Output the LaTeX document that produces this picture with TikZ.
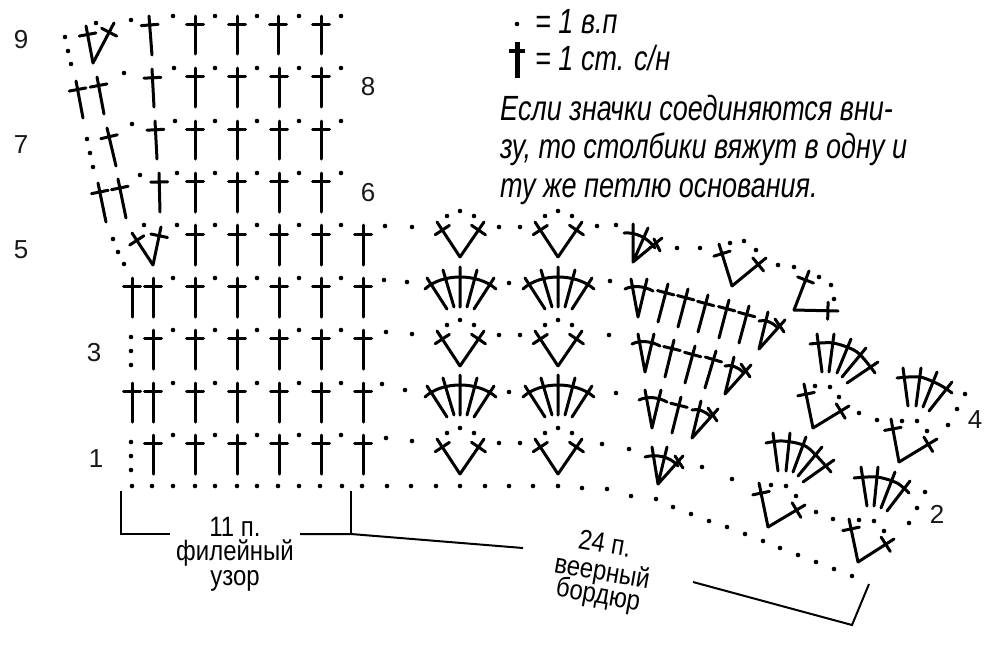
\documentclass[tikz,border=0pt]{standalone}
\usepackage{fontspec}
\usetikzlibrary{calc}
\setmainfont{Liberation Sans}
\newfontfamily\narrowf[FakeStretch=0.772]{Liberation Sans}
\newfontfamily\lblf[FakeStretch=0.855]{Liberation Sans}
\newfontfamily\numf{Liberation Sans}
\tikzset{
  ink/.style={line width=3pt,line cap=round,line join=round,black},
  thinline/.style={line width=2pt,black},
  lbl/.style={inner sep=0pt,font=\lblf\fontsize{28}{30}\selectfont},
  num/.style={inner sep=0pt,font=\numf\fontsize{26}{28}\selectfont,text=black!90},
  para/.style={inner sep=0pt,anchor=base west,font=\narrowf\itshape\fontsize{35}{38}\selectfont}
}
\newcommand{\stitch}[4]{%
  \coordinate (A) at (#1,#2); \coordinate (B) at (#3,#4);
  \coordinate (C) at ($(A)!.77!(B)$);
  \draw[ink] (A)--(B) ($(C)!8.5pt!90:(B)$)--($(C)!8.5pt!-90:(B)$);}
\newcommand{\dotat}[2]{\fill (#1,#2) circle (2.3pt);}
\newcommand{\stitchrow}[3]{\foreach \x in {#1} {\stitch{\x}{#3}{\x}{#2}}}
\newcommand{\veefan}[2]{%
  \pgfmathsetmacro{\xl}{#1-23}\pgfmathsetmacro{\xr}{#1+24}\pgfmathsetmacro{\yt}{#2-35}
  \stitch{#1}{#2}{\xl}{\yt}\stitch{#1}{#2}{\xr}{\yt}
  \begin{scope}[shift={(#1,#2)}]
  \fill (-13,-41) circle (2.3pt) (0,-46) circle (2.3pt) (14,-41) circle (2.3pt);
  \end{scope}}
\newcommand{\fanfive}[2]{%
  \begin{scope}[shift={(#1,#2)}]
  \draw[ink] (-13,42)--(-33,11) (-6,40)--(-17,3) (0,40)--(0,0) (7,40)--(17,3) (14,42)--(34,11);
  \draw[ink] (-35,22) .. controls (-18,6) and (18,6) .. (36,22);
  \end{scope}}
\newcommand{\vbar}[2]{%
  \begin{scope}[shift={(#1,#2)}]
  \draw[ink] (-7,-38)--(0,0)--(9,-38);
  \draw[ink] (-13,-28) .. controls (-5,-32) and (6,-31) .. (15,-26);
  \end{scope}}
\newcommand{\vtail}[2]{%
  \begin{scope}[shift={(#1,#2)}]
  \draw[ink] (9,-37)--(0,0)--(26,-29);
  \draw[ink] (0,-28) .. controls (6,-30) and (14,-26) .. (18,-22);
  \draw[ink] (16,-30)--(25,-17);
  \end{scope}}
\begin{document}
\begin{tikzpicture}[x=1pt,y=-1pt]
\useasboundingbox (0,0) rectangle (1000,646);
\fill[white] (0,0) rectangle (1000,646);

% --- filet columns
\stitchrow{195,237,278,321}{16}{54}
\stitch{152}{55}{149}{16}
\stitchrow{195,237,279,321}{68}{107}
\stitch{154}{107}{152}{69}
\stitch{83}{118}{76}{81}
\stitch{104}{114}{97}{77}
\stitchrow{195,237,279,321}{121}{159}
\stitch{157}{159}{155}{121}
\stitch{116}{166}{107}{128}
\stitchrow{195,237,279,321}{173}{212}
\stitch{160}{212}{159}{173}
\stitch{106}{222}{98}{183}
\stitch{126}{218}{118}{179}
\stitchrow{195,237,279,321,363}{225}{265}
\stitchrow{132,153,195,237,279,321,363}{278}{317}
\stitchrow{153,195,237,279,321,363}{330}{369}
\stitchrow{132,153,195,237,279,321,363}{383}{422}
\stitchrow{153,195,237,279,321,363}{435}{474}
% top-left clusters
\stitch{93}{63}{86}{26}
\stitch{93}{63}{114}{23}
\stitch{153}{265}{132}{233}
\stitch{153}{265}{161}{227}

% --- dots of the filet part
\foreach \p/\q in {
 131/20,173/16,215/16,257/16,299/16,341/16,96/23,65/37,68/51,71/64,
 124/73,174/68,215/68,257/68,299/68,341/68,
 132/124,175/121,215/121,257/121,299/121,341/121,87/139,90/153,93/167,
 140/175,177/173,215/173,257/173,299/173,341/173,
 144/225,177/225,215/225,257/225,299/225,341/225,385/226,113/239,118/252,124/264,
 173/278,215/278,257/278,299/278,341/278,384/280,
 173/330,215/330,257/330,299/330,341/330,386/332,131/337,131/351,131/365,
 173/383,215/383,257/383,299/383,341/383,382/384,
 173/435,215/435,257/435,299/435,341/435,386/438,131/442,131/456,131/470,
 132/486,152/486,173/486,195/486,215/486,237/486,257/486,278/486,299/486,320/486,342/486,362/486,
 387/486,411/486,436/486,460/486,485/486,509/486,533/486,558/486,582/488,607/489,631/496,656/499,
 673/507,691/514,709/521,727/527,745/534,763/541,780/548,798/555,816/562,834/569,852/576,
 412/227,499/227,520/227,597/226,616/225,
 407/282,509/283,610/281,
 412/334,499/335,520/335,609/335,
 405/390,509/392,616/393,
 412/441,499/443,520/443,602/444,629/449,
 677/248,700/248,730/243,744/241,756/250,778/265,794/267,819/277,831/285,834/299,
 815/386,830/387,839/397,859/413,877/420,
 902/421,917/421,927/431,948/425,957/409,965/394,
 771/485,786/486,796/496,816/512,833/519,
 859/520,874/521,884/531,909/523,917/508,925/492,
 702/467,732/479,
 517/24} {\dotat{\p}{\q}}

% --- fans
\veefan{460}{257}\veefan{558}{257}
\fanfive{460}{267}\fanfive{558}{267}
\veefan{460}{366}\veefan{558}{366}
\fanfive{460}{375}\fanfive{558}{375}
\veefan{460}{474}\veefan{558}{474}

% --- slanted part
\draw[ink] (662,238)--(633,262)--(633,224) (633,262)--(648,228);
\draw[ink] (624,233) .. controls (636,232) and (648,238) .. (655,248);
\draw[ink] (654,239)--(660,251);
\draw[ink] (683,456)--(658,484)--(652,447) (658,484)--(667,447);
\draw[ink] (645,457) .. controls (655,454) and (670,456) .. (678,466);
\draw[ink] (675,456)--(683,468);

\vbar{638}{317}\vbar{645}{372}\vbar{652}{428}
\stitch{658}{322}{668}{284}
\stitch{678}{327}{688}{289}
\stitch{698}{332}{708}{295}
\stitch{719}{338}{729}{300}
\stitch{739}{343}{749}{306}
\vtail{759}{349}
\stitch{665}{377}{674}{340}
\stitch{685}{383}{695}{346}
\stitch{705}{388}{716}{351}
\vtail{725}{394}
\stitch{672}{433}{681}{397}
\vtail{692}{438}

% L clusters
\stitch{732}{286}{719}{244}\stitch{732}{286}{766}{258}
\stitch{794}{310}{809}{271}\stitch{794}{310}{838}{311}
\stitch{813}{428}{804}{384}\stitch{813}{428}{849}{406}
\stitch{899}{462}{891}{419}\stitch{899}{462}{937}{439}
\stitch{768}{527}{759}{483}\stitch{768}{527}{805}{505}
\stitch{858}{562}{849}{519}\stitch{858}{562}{894}{539}

% tilted fans
\draw[ink] (822,372)--(817,334) (829,372)--(834,334) (837,373)--(851,339) (842,377)--(866,348) (847,383)--(878,362);
\draw[ink] plot[smooth] coordinates {(810,344) (833,343) (857,352) (875,373)};
\draw[ink] (778,471)--(773,433) (786,471)--(790,433) (793,472)--(806,437) (798,476)--(822,447) (803,482)--(834,460);
\draw[ink] plot[smooth] coordinates {(766,443) (783,441) (807,447) (831,472)};
\draw[ink] (908,406)--(903,368) (916,406)--(921,368) (923,407)--(937,372) (929,411)--(952,382);
\draw[ink] plot[smooth] coordinates {(897,378) (920,377) (940,385) (952,393)};
\draw[ink] (867,506)--(861,467) (874,506)--(878,467) (881,508)--(895,472) (887,511)--(910,481);
\draw[ink] plot[smooth] coordinates {(854,478) (877,477) (897,483) (909,493)};

% --- brackets
\draw[thinline] (121,491)--(121,534)--(170,534);
\draw[thinline] (300,534)--(351,534)--(523,548);
\draw[thinline] (351,491)--(351,534);
\draw[thinline] (693,582)--(852,625)--(869,584);

% --- numbers
\node[num] (n9) at (21,40) {9};
\node[num] (n8) at (368,87) {8};
\node[num] (n7) at (21,145) {7};
\node[num] (n6) at (368,193) {6};
\node[num] (n5) at (21,250) {5};
\node[num] (n3) at (94,353) {3};
\node[num] (n1) at (96,459) {1};
\node[num] (n2) at (937,514) {2};
\node[num] (n4) at (975,420) {4};

% --- labels
\node[lbl] (l11) at (235,527) {11 п.};
\node[lbl] (l12) at (235,553) {филейный};
\node[lbl] (l13) at (235,581) {узор};
\node[lbl,rotate=-10] (l21) at (605,543) {24 п.};
\node[lbl,rotate=-10] (l22) at (602,573) {веерный};
\node[lbl,rotate=-10] (l23) at (598,596) {бордюр};

% --- legend
\draw[line width=5pt,black] (517,42)--(517,78);
\draw[line width=3.5pt,black] (509,51)--(525,51);
\node[para] (t1) at (535,33) {= 1 в.п};
\node[para] (t2) at (535,70) {= 1 ст. с/н};
\node[para] (t3) at (500,120) {Если значки соединяются вни-};
\node[para] (t4) at (500,158) {зу, то столбики вяжут в одну и};
\node[para] (t5) at (500,197) {ту же петлю основания.};
\end{tikzpicture}
\end{document}
